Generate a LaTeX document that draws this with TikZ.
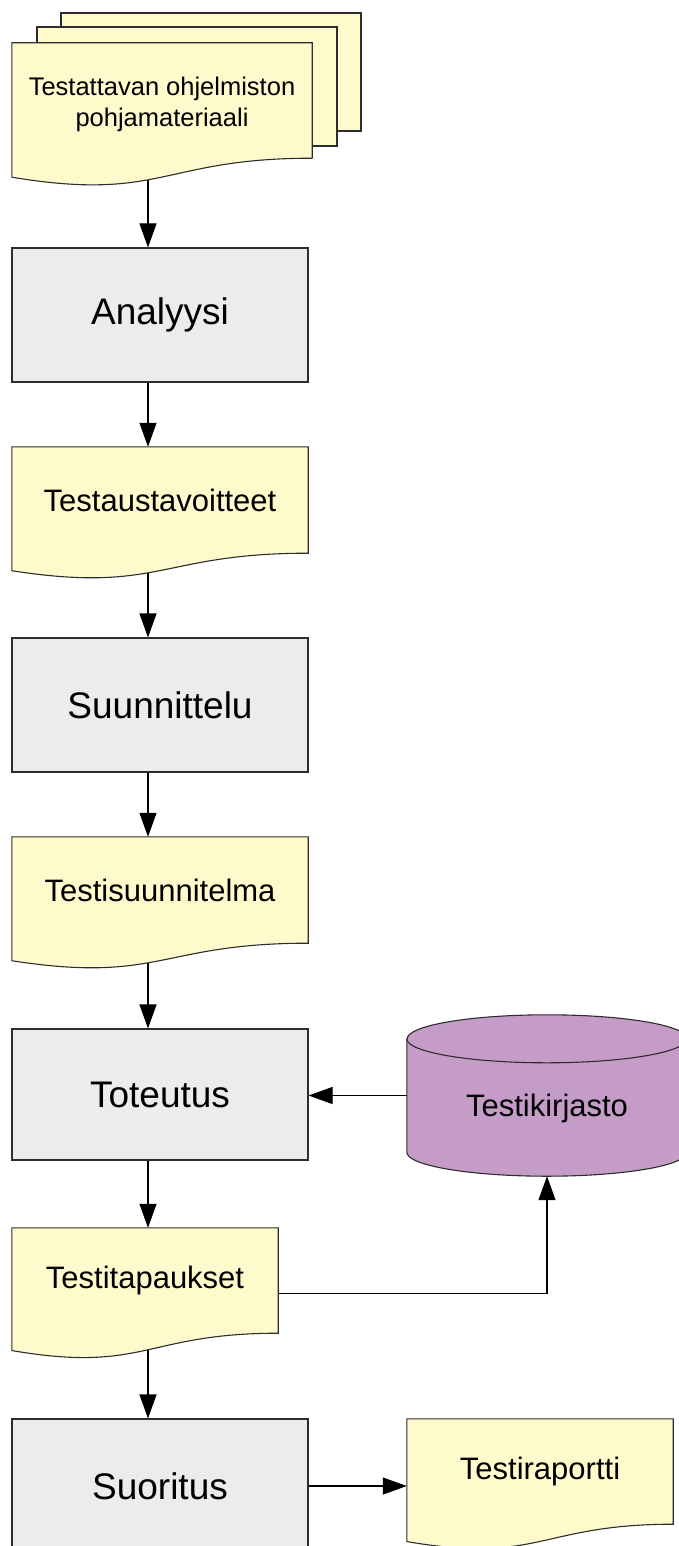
\documentclass[tikz,border=0pt]{standalone}
\usepackage{fontspec}
\setmainfont{Liberation Sans}
\usetikzlibrary{calc,arrows.meta}
\pgfdeclarelayer{conn}
\pgfdeclarelayer{shp}
\pgfsetlayers{conn,shp,main}
\definecolor{docfill}{RGB}{255,250,204}
\definecolor{procfill}{RGB}{236,236,236}
\definecolor{cylfill}{RGB}{197,155,200}
\definecolor{edgec}{RGB}{45,45,45}
\tikzset{
  proc/.style={draw=edgec, line width=1.1pt, fill=procfill, minimum width=296pt,
    minimum height=134pt, inner sep=0pt, font=\fontsize{37}{44}\selectfont},
  docnode/.style={inner sep=0pt, minimum width=296pt, minimum height=106pt,
    font=\fontsize{31}{37}\selectfont},
  docshape/.style={draw=edgec, line width=1.1pt, fill=docfill},
  cylshape/.style={draw=edgec, line width=1.1pt, fill=cylfill},
  conn/.style={line width=1.1pt, draw=black, -{Triangle[length=24pt,width=17pt]}},
}
\newcommand\mydocshape[1]{%
  \begin{pgfonlayer}{shp}
  \path[docshape] (#1.north west) -- (#1.north east) -- (#1.south east)
    .. controls (#1.south) and ($(#1.south)!0.381!180:(#1.north)$)
    .. ($(#1.south west)!0.1646!180:(#1.north west)$) -- cycle;
  \end{pgfonlayer}}
\begin{document}
\begin{tikzpicture}[x=1pt,y=1pt]
\useasboundingbox (0,0) rectangle (678,-1546);
\coordinate (ax) at (148,0);
% source: multi-document
\begin{pgfonlayer}{shp}
\path[docshape] (61,-13) rectangle (361,-131);
\path[docshape] (37,-27) rectangle (337,-146);
\end{pgfonlayer}
\node[docnode, minimum width=300pt, minimum height=115pt] (src) at (162,-100.5) {};
\node[align=center, inner sep=0pt, font=\fontsize{25.5}{31}\selectfont] (srctxt)
  at (162,-104) {Testattavan ohjelmiston\\pohjamateriaali};
\mydocshape{src}
% main column
\node[proc] (ana) at (160,-315) {Analyysi};
\node[docnode] (tav) at (160,-500) {Testaustavoitteet};
\mydocshape{tav}
\node[proc] (suu) at (160,-705) {Suunnittelu};
\node[docnode] (tsu) at (160,-890) {Testisuunnitelma};
\mydocshape{tsu}
\node[proc, minimum height=131pt] (tot) at (160,-1094.5) {Toteutus};
\node[docnode, minimum width=266pt, minimum height=105pt] (ttp) at (145,-1280.5) {Testitapaukset};
\mydocshape{ttp}
\node[proc] (suo) at (160,-1486) {Suoritus};
\node[docnode, minimum width=266pt, minimum height=105pt] (rap) at (540,-1471.5) {Testiraportti};
\mydocshape{rap}
% cylinder
\node[inner sep=0pt, minimum width=280pt, minimum height=113pt] (cyl) at (547,-1095.5) {};
\node[font=\fontsize{31}{37}\selectfont] (cyltxt) at (547,-1108) {Testikirjasto};
\begin{pgfonlayer}{shp}
\path[cylshape] (cyl.north west) -- (cyl.south west)
  arc[start angle=180, end angle=360, x radius=140pt, y radius=24pt]
  -- (cyl.north east)
  arc[start angle=0, end angle=180, x radius=140pt, y radius=24pt] -- cycle;
\draw[draw=edgec, line width=1.1pt] (cyl.north west)
  arc[start angle=180, end angle=360, x radius=140pt, y radius=24pt];
\end{pgfonlayer}
\coordinate (cylbot) at ($(cyl.south)+(0,-24)$);
\coordinate (ttpout) at ($(ttp.east)+(0,-13)$);
% connectors
\begin{pgfonlayer}{conn}
\draw[conn] (src.center -| ax) -- (ana.north -| ax);
\draw[conn] (ana.south -| ax) -- (tav.north -| ax);
\draw[conn] (tav.center -| ax) -- (suu.north -| ax);
\draw[conn] (suu.south -| ax) -- (tsu.north -| ax);
\draw[conn] (tsu.center -| ax) -- (tot.north -| ax);
\draw[conn] (tot.south -| ax) -- (ttp.north -| ax);
\draw[conn] (ttp.center -| ax) -- (suo.north -| ax);
\draw[conn] (cyl.west) -- (cyl.west -| tot.east);
\draw[conn] (ttpout) -| (cylbot);
\draw[conn] (suo.east) -- (suo.east -| rap.west);
\end{pgfonlayer}
\end{tikzpicture}
\end{document}
